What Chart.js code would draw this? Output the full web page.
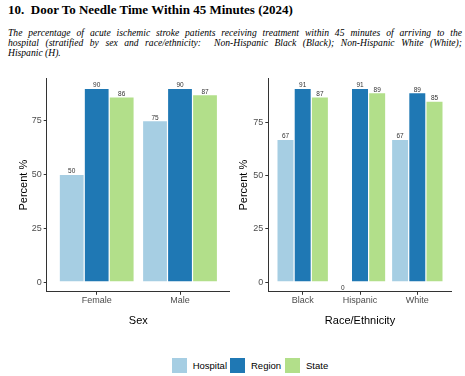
<!DOCTYPE html>
<html>
<head>
<meta charset="utf-8">
<script src="https://cdn.jsdelivr.net/npm/chart.js@4"></script>
<style>
  html, body { margin: 0; padding: 0; background: #ffffff; }
  body { width: 465px; height: 376px; position: relative; overflow: hidden; }
  #title { position: absolute; left: 8px; top: 2px; font-family: "Liberation Serif", serif; font-weight: bold; font-size: 13px; color: #000; white-space: nowrap; }
  #sub { position: absolute; left: 8px; top: 28px; width: 454px; font-family: "Liberation Serif", serif; font-style: italic; font-size: 9.6px; line-height: 10px; color: #000; }
  #sub .j { text-align: justify; text-align-last: justify; white-space: nowrap; }
  #sub .l { text-align: left; }
  canvas { position: absolute; }
  #c1 { left: 0px; top: 70px; }
  #c2 { left: 230px; top: 70px; }
  #legend { position: absolute; top: 358px; left: 0; width: 465px; height: 16px; font-family: "Liberation Sans", Arial, sans-serif; font-size: 9.5px; color: #000; }
  .lg-box { position: absolute; width: 15px; height: 15px; top: 0; }
  .lg-txt { position: absolute; top: 2px; white-space: nowrap; }
</style>
</head>
<body>
<div id="title">10.&nbsp; Door To Needle Time Within 45 Minutes (2024)</div>
<div id="sub">
  <div class="j">The percentage of acute ischemic stroke patients receiving treatment within 45 minutes of arriving to the</div>
  <div class="j">hospital (stratified by sex and race/ethnicity:&nbsp; Non-Hispanic Black (Black); Non-Hispanic White (White);</div>
  <div class="l">Hispanic (H).</div>
</div>
<canvas id="c1" width="230" height="270" style="width:230px;height:270px"></canvas>
<canvas id="c2" width="235" height="270" style="width:235px;height:270px"></canvas>
<div id="legend"></div>
<script>
// ---------- DATA ----------
const seriesNames = ['Hospital', 'Region', 'State'];

const sexCategories = ['Female', 'Male'];
const sexHospital = [50, 75];
const sexRegion   = [90, 90];
const sexState    = [86, 87];

const raceCategories = ['Black', 'Hispanic', 'White'];
const raceHospital = [67, 0, 67];
const raceRegion   = [91, 91, 89];
const raceState    = [87, 89, 85];

const yTickValues = [0, 25, 50, 75];

// ---------- STYLE ----------
const seriesColors = ['#a6cee3', '#1f78b4', '#b2df8a'];
const axisColor = '#333333';
const tickColor = '#4d4d4d';
const fontFamily = '"Liberation Sans", Arial, sans-serif';

// data labels plugin
const valueLabels = {
  id: 'valueLabels',
  afterDatasetsDraw(chart) {
    const ctx = chart.ctx;
    ctx.save();
    ctx.font = '6.5px ' + fontFamily;
    ctx.fillStyle = '#333333';
    ctx.textAlign = 'center';
    chart.data.datasets.forEach((ds, di) => {
      const meta = chart.getDatasetMeta(di);
      meta.data.forEach((el, i) => {
        const v = ds.data[i].y;
        if (v === 0) {
          ctx.textBaseline = 'top';
          ctx.fillText(String(v), el.x, el.y + 3);
        } else {
          ctx.textBaseline = 'alphabetic';
          ctx.fillText(String(v), el.x, el.y - 1);
        }
      });
    });
    ctx.restore();
  }
};

function makePanel(id, cats, series, xTitle, opt) {
  const datasets = series.map((vals, si) => ({
    label: seriesNames[si],
    data: vals.map((v, i) => ({ x: i + 1, y: v })),
    backgroundColor: seriesColors[si],
    borderColor: 'rgba(255,255,255,0.75)',
    borderWidth: 0.6,
    borderSkipped: 'bottom'
  }));
  const maxV = Math.max(...series.flat());
  const exp = maxV * 0.05;
  return new Chart(document.getElementById(id), {
    type: 'bar',
    data: { datasets },
    options: {
      responsive: false,
      animation: false,
      devicePixelRatio: 1,
      layout: { padding: { top: 8.6, right: opt.padRight, left: 0, bottom: 0 } },
      plugins: { legend: { display: false }, tooltip: { enabled: false } },
      datasets: { bar: { categoryPercentage: 0.9, barPercentage: 1.0, grouped: true } },
      scales: {
        x: {
          type: 'linear',
          offset: false,
          min: 0.4,
          max: cats.length + 0.6,
          afterBuildTicks: (s) => { s.ticks = cats.map((c, i) => ({ value: i + 1 })); },
          afterFit: (s) => { s.height = 270 - 221.8; },
          ticks: {
            callback: (v) => cats[Math.round(v) - 1],
            font: { family: fontFamily, size: 9 },
            color: tickColor,
            padding: 0,
            autoSkip: false,
            maxRotation: 0
          },
          grid: { display: true, offset: false, drawOnChartArea: false, drawTicks: true, tickLength: 3, color: axisColor, tickColor: axisColor },
          border: { display: true, color: axisColor, width: 1 },
          title: { display: true, text: xTitle, font: { family: fontFamily, size: 11 }, color: '#000', padding: { top: 0, bottom: 12.2 } }
        },
        y: {
          type: 'linear',
          min: -exp,
          max: maxV + exp,
          afterBuildTicks: (s) => { s.ticks = yTickValues.map(v => ({ value: v })); },
          afterFit: (s) => { s.width = opt.axisX; },
          ticks: {
            font: { family: fontFamily, size: 9 },
            color: tickColor,
            padding: 2
          },
          grid: { display: true, drawOnChartArea: false, drawTicks: true, tickLength: 3, color: axisColor, tickColor: axisColor },
          border: { display: true, color: axisColor, width: 1 },
          title: { display: true, text: 'Percent %', font: { family: fontFamily, size: 11 }, color: '#000', padding: { top: opt.yTitlePad, bottom: 0 } }
        }
      }
    },
    plugins: [valueLabels]
  });
}

makePanel('c1', sexCategories, [sexHospital, sexRegion, sexState], 'Sex', { axisX: 46.7, padRight: 0, yTitlePad: 17.2 });
makePanel('c2', raceCategories, [raceHospital, raceRegion, raceState], 'Race/Ethnicity', { axisX: 38.3, padRight: 13.3, yTitlePad: 7.2 });

// legend
const legendPos = [171.7, 230, 285];
const lg = document.getElementById('legend');
seriesNames.forEach((n, i) => {
  const b = document.createElement('div');
  b.className = 'lg-box';
  b.style.left = legendPos[i] + 'px';
  b.style.background = seriesColors[i];
  lg.appendChild(b);
  const t = document.createElement('div');
  t.className = 'lg-txt';
  t.style.left = (legendPos[i] + 21) + 'px';
  t.textContent = n;
  lg.appendChild(t);
});
</script>
</body>
</html>
